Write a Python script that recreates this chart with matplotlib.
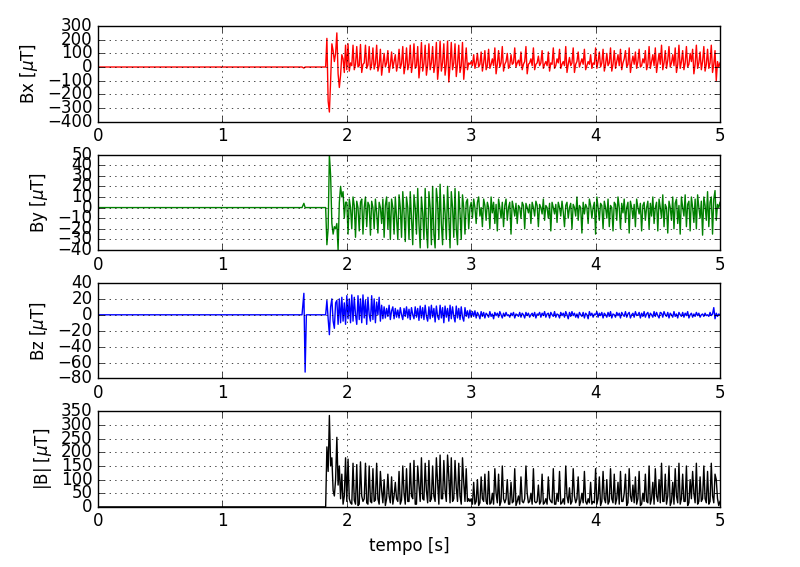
import numpy as np
import matplotlib
matplotlib.use("Agg")
from matplotlib import pyplot as plt

plt.style.use('classic')
plt.rcParams['mathtext.fontset'] = 'dejavusans'

# quiet part before the event (s, uT)
t_pre = [0.0, 1.64, 1.655, 1.665, 1.675, 1.82]
bx_pre = [0, 0, -8, 0, 0, 0]
by_pre = [0, 0, 4, 0, 0, 0]
bz_pre = [0, 0, 27, -72, 0, 0]
bm_pre = [0, 0, 0, 0, 0, 0]

# event, sampled every 10 ms from 1.83 s to 5.00 s
bx_ev = [
    0, 210, -250, -330, -100, 170, 120, 40, 100, 250,
    -50, -150, -60, 90, 60, -40, 160,
    -20, 170, -30, 30, 10, 160, -20, 20, 150, 0,
    10, 165, -40, 20, 30, 160, -10, 15, 150, -20,
    20, 140, -15, 25, 160, -30, 10, 130, -60, 20,
    100, 0, 30, 120, -40, 15, 110, -10, 40, 90,
    -30, 20, 130, -10, 25, 150, -50, 10, 140, -20,
    20, 160, -40, 30, 170, -10, 10, 150, -80, 20,
    180, -30, 25, 160, -60, 15, 170, -20, 30, 150,
    -40, 20, 180, -90, 10, 190, -30, 30, 170, -60,
    20, 190, -110, 15, 180, -20, 30, 170, -70, 20,
    160, -40, 10, 180, -90, 20, 140, -20, 30, 20,
    40, 10, 90, -10, 30, 100, 0, 20, 110, -30,
    30, 120, -20, 10, 130, -10, 20, 60, 10, 140,
    -50, 20, 120, 0, 30, 150, -30, 20, 40, 100,
    -10, 10, 90, 20, 30, 140, 0, 30, 50, 10,
    110, -20, 20, 40, 150, -50, 20, 30, 60, 10,
    140, -20, 20, 30, 80, 10, 30, 120, -10, 20,
    40, 10, 110, -30, 30, 20, 140, -10, 10, 60,
    30, 130, -10, 20, 40, 10, 150, -40, 20, 70,
    10, 30, 140, -40, 20, 40, 110, 0, 30, 60,
    20, 130, -20, 10, 40, 20, 90, -10, 30, 20,
    140, -10, 40, 110, 0, 30, 130, -30, 20, 100,
    10, 30, 140, -30, 20, 120, -10, 40, 90, 10,
    130, -20, 30, 60, 120, 0, 20, 140, -40, 30,
    80, 20, 110, -10, 40, 130, 0, 10, 60, 30,
    120, -20, 20, 150, -10, 40, 90, 10, 140, -40,
    30, 100, 20, 160, -20, 30, 120, -10, 50, 150,
    0, 30, 90, 10, 140, -40, 20, 160, -10, 40,
    120, -20, 30, 150, 0, 20, 100, 40, 130, -50,
    20, 160, -10, 30, 110, -20, 40, 150, -30, 20,
    130, -10, 30, 160, -40, 20, 120, -100, 40, 0,
    30,
]

by_ev = [
    0, -35, -20, 50, 30, -15, -25, -18, -20, -15,
    -40, 5, 20, 10, 15, -10, 5,
    5, -25, 8, 0, -20, 10, 2, -28, 6, 0,
    -22, 5, 8, -25, 0, 10, -18, 5, 2, -26,
    6, 0, -20, 8, -5, -24, 5, 0, -15, 8,
    -28, 2, 10, -20, 5, -30, 8, 0, -25, 10,
    -10, -30, 12, 0, -28, 15, -5, -32, 10, 0,
    -30, 15, -10, -35, 12, 0, -25, 18, -15, -38,
    10, -5, -30, 18, -20, -38, 15, 0, -35, 20,
    -25, -38, 18, 5, -30, 22, -15, -35, 12, -5,
    -30, 20, -10, -38, 15, 0, -28, 18, -20, -35,
    15, -5, -30, 12, 0, -25, 5, 8, -20, 0,
    5, -10, 8, 0, -15, 5, 10, -8, 0, -18,
    8, 2, -12, 5, 0, -20, 10, -5, 5, -15,
    3, -22, 8, 0, -10, 5, -18, 2, 8, -12,
    0, 5, -25, 6, 0, -8, 4, -15, 2, 0,
    -10, 5, 2, -20, 4, 0, -5, 3, -15, 5,
    0, -8, 6, 2, -18, 3, 0, -6, 8, -12,
    2, 0, -10, 4, -22, 5, 0, -6, 3, -14,
    5, 0, -8, 6, -4, -18, 2, 5, -10, 0,
    4, -20, 3, 0, -8, 10, -12, 2, 0, -24,
    5, -6, 3, 0, -15, 8, 2, -10, 0, 5,
    -25, 10, 0, -12, 4, 2, -20, 6, 0, -10,
    8, -18, 2, 0, -22, 5, 3, -12, 10, 0,
    -20, 4, -5, 8, -14, 0, 5, -24, 6, 0,
    -10, 3, -18, 8, 0, -6, 4, -22, 2, 5,
    -12, 0, 6, -20, 4, -8, 10, -15, 0, 5,
    -22, 8, 0, -10, 12, -18, 3, 0, -24, 6,
    0, -12, 10, -20, 4, 8, -15, 2, -25, 10,
    0, -8, 12, -18, 3, 6, -22, 10, 0, -14,
    8, -20, 12, 0, -10, 6, -26, 10, 2, -12,
    15, -18, 5, 10, -25, 8, 16, -12, 3, 0,
    5,
]

bz_ev = [
    0, 18, -5, -25, 10, 20, -8, -17, 15, 18,
    -12, 20, -10, 22, -8, 15, -12,
    24, -5, 20, -10, 25, -8, 22, 0, -12, 24,
    -6, 20, -10, 25, -4, 18, -12, 22, 0, -8,
    24, -6, 20, -10, 16, 0, 22, -8, 12, -5,
    10, -4, 8, -2, 12, -6, 5, 10, -5, 8,
    -3, 6, -4, 9, 0, -6, 8, -2, 10, -4,
    7, -6, 9, 0, -5, 10, -3, 8, -7, 11,
    -4, 9, -6, 12, -2, -8, 10, -5, 12, -3,
    8, -9, 11, -2, -6, 12, -4, 9, -10, 11,
    -3, 8, -8, 12, -5, 10, -2, -9, 11, -4,
    8, -6, 10, -3, -8, 9, -2, 5, -4, 6,
    -3, 4, -2, 5, -4, 3, 0, -5, 4, -2,
    3, -4, 2, 0, -3, 4, -2, 1, -5, 3,
    -1, 2, -3, 4, 0, -4, 2, -2, 3, -1,
    0, -3, 2, -1, 3, -4, 1, 0, -2, 3,
    -3, 2, 0, -4, 3, -1, 2, -3, 0, 2,
    -2, 3, -4, 1, 0, 3, -3, 2, -1, 4,
    -3, 1, 2, -4, 3, 0, -2, 4, -3, 1,
    0, -4, 3, -1, 2, -3, 4, 0, -5, 3,
    -2, 4, -1, 2, -3, 1, -4, 3, 0, -2,
    3, -4, 2, 0, -5, 4, -1, 2, -3, 1,
    0, 4, -3, 2, -1, 3, -4, 2, 0, -3,
    3, -2, 4, -4, 1, 0, -3, 3, -1, 2,
    -4, 3, 0, -2, 4, -3, 1, 3, -4, 0,
    2, -3, 4, -1, 0, 3, -4, 2, -2, 4,
    -3, 1, 3, -4, 2, 0, -3, 4, -2, 3,
    -1, -4, 3, 2, -3, 4, 0, -2, 3, -4,
    2, 0, -3, 4, -2, 1, -4, 3, 0, -2,
    3, -3, 2, -1, 4, -4, 0, 2, -3, 1,
    -2, 3, -1, 2, -3, 0, 1, -2, 2, -1,
    0, -2, 3, -1, 1, 9, -5, 2, -2, 1,
    0,
]

bm_ev = [
    0, 220, 130, 335, 150, 180, 60, 40, 100, 255,
    80, 150, 30, 120, 10, 40, 180,
    20, 175, 30, 15, 10, 160, 25, 10, 155, 5,
    10, 165, 40, 20, 30, 160, 15, 10, 150, 20,
    15, 140, 20, 25, 160, 30, 10, 130, 60, 15,
    100, 5, 30, 120, 40, 15, 110, 10, 40, 90,
    30, 20, 130, 10, 25, 150, 50, 10, 140, 20,
    20, 160, 40, 30, 170, 10, 10, 150, 80, 20,
    180, 30, 25, 160, 60, 15, 170, 20, 30, 150,
    40, 20, 180, 90, 10, 190, 30, 30, 170, 60,
    20, 190, 110, 15, 180, 20, 30, 170, 70, 20,
    160, 40, 10, 180, 90, 20, 140, 20, 30, 20,
    30, 10, 90, 10, 20, 100, 5, 15, 110, 30,
    20, 120, 20, 10, 130, 10, 15, 50, 10, 140,
    50, 15, 120, 5, 20, 150, 30, 15, 30, 100,
    10, 10, 90, 15, 20, 140, 5, 20, 40, 10,
    110, 20, 15, 30, 150, 50, 15, 20, 50, 10,
    140, 20, 15, 20, 80, 10, 20, 120, 10, 15,
    30, 10, 110, 30, 20, 15, 140, 10, 10, 50,
    20, 130, 10, 15, 30, 10, 150, 40, 15, 70,
    10, 20, 140, 40, 15, 30, 110, 5, 20, 50,
    15, 130, 20, 10, 30, 15, 90, 10, 20, 15,
    140, 10, 30, 110, 5, 20, 130, 30, 15, 100,
    10, 20, 140, 30, 15, 120, 10, 30, 90, 10,
    130, 20, 20, 50, 120, 5, 15, 140, 40, 20,
    80, 15, 110, 10, 30, 130, 5, 10, 50, 20,
    120, 20, 15, 150, 10, 30, 90, 10, 140, 40,
    20, 100, 15, 160, 20, 20, 120, 10, 40, 150,
    5, 20, 90, 10, 140, 40, 15, 160, 10, 30,
    120, 20, 20, 150, 5, 15, 100, 30, 130, 50,
    15, 160, 10, 20, 110, 20, 30, 150, 30, 15,
    130, 10, 20, 160, 40, 15, 120, 100, 30, 5,
    20,
]

t_ev = np.round(1.83 + 0.01 * np.arange(len(bx_ev)), 2)

t = np.concatenate([t_pre, t_ev])
bx = np.concatenate([bx_pre, bx_ev])
by = np.concatenate([by_pre, by_ev])
bz = np.concatenate([bz_pre, bz_ev])
bm = np.concatenate([bm_pre, bm_ev])

panels = [
    (bx, 'r', 'Bx [$\\mu$T]', (-400, 300), np.arange(-400, 301, 100)),
    (by, 'g', 'By [$\\mu$T]', (-40, 50), np.arange(-40, 51, 10)),
    (bz, 'b', 'Bz [$\\mu$T]', (-80, 40), np.arange(-80, 41, 20)),
    (bm, 'k', '|B| [$\\mu$T]', (0, 350), np.arange(0, 351, 50)),
]

fig, axes = plt.subplots(4, 1, figsize=(8, 5.67), dpi=100)
fig.subplots_adjust(left=0.1225, right=0.9, top=0.954, bottom=0.106,
                    hspace=0.345)

for ax, (y, c, lab, lim, ticks) in zip(axes, panels):
    ax.plot(t, y, color=c, linewidth=1.0)
    ax.set_xlim(0, 5)
    ax.set_ylim(*lim)
    ax.set_yticks(ticks)
    ax.set_ylabel(lab)
    ax.grid(True)

axes[-1].set_xlabel('tempo [s]')

fig.savefig('out.png', dpi=100, facecolor='white')
